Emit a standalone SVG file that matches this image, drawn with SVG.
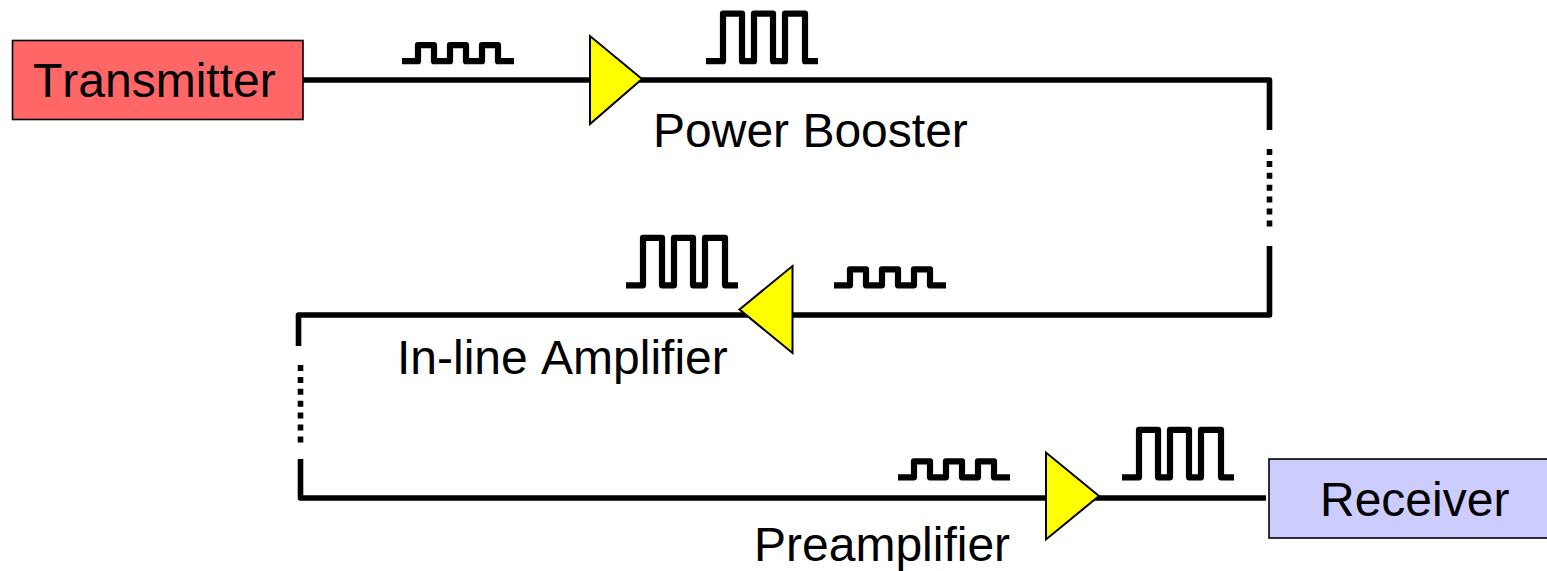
<svg xmlns="http://www.w3.org/2000/svg" width="1547" height="571" viewBox="0 0 1547 571">
<style>
text{font-family:"Liberation Sans",Arial,sans-serif;font-size:48px;fill:#000;font-variant-ligatures:none;font-kerning:none}
.box{stroke:#000;stroke-width:1.6}
.wire{fill:none;stroke:#000;stroke-width:5.6;stroke-linejoin:round}
.dots{fill:none;stroke:#000;stroke-width:5.6;stroke-dasharray:6 5.9}
.amp{fill:#FF0;stroke:#000;stroke-width:2;stroke-linejoin:miter}
.pulse{fill:none;stroke:#000;stroke-width:6.2;stroke-linejoin:round}
</style>
<defs>
<path id="small" class="pulse" d="M0 0H16V-16H32V0H48V-16H64V0H80V-16H96V0H112"/>
<path id="tall" class="pulse" d="M0 0H17V-47.500H36V0H48V-47.500H67V0H79V-47.500H99V0H112"/>
</defs>
<g id="connectors">
<path class="wire" d="M303 80H1269.500V130"/>
<path class="dots" d="M1269.500 149V227"/>
<path class="wire" d="M1269.500 246V315H298.500V346"/>
<path class="dots" d="M300.500 365V443"/>
<path class="wire" d="M300.500 459V498H1266"/>
</g>
<g id="pulses">
<use href="#small" x="402" y="61.200"/>
<use href="#tall" x="706" y="61.200"/>
<use href="#tall" x="626" y="285.300"/>
<use href="#small" x="834" y="285.300"/>
<use href="#small" x="898" y="477.300"/>
<use href="#tall" x="1122" y="477.300"/>
</g>
<g id="transmitter"><rect class="box" x="12.500" y="40.500" width="290.500" height="79" fill="#FF6666"/><text x="33" y="97">Transmitter</text></g>
<g id="receiver"><rect class="box" x="1269" y="459" width="280" height="79" fill="#CCCCFF"/><text x="1320" y="516">Receiver</text></g>
<g id="power-booster"><polygon class="amp" points="590,36 590,124 642,79"/><text x="653" y="147">Power Booster</text></g>
<g id="inline-amplifier"><polygon class="amp" points="792.500,266 792.500,353 739.500,309.500"/><text x="397" y="374">In-line Amplifier</text></g>
<g id="preamplifier"><polygon class="amp" points="1046,452.500 1046,539.500 1099,496"/><text x="754" y="561">Preamplifier</text></g>
</svg>
